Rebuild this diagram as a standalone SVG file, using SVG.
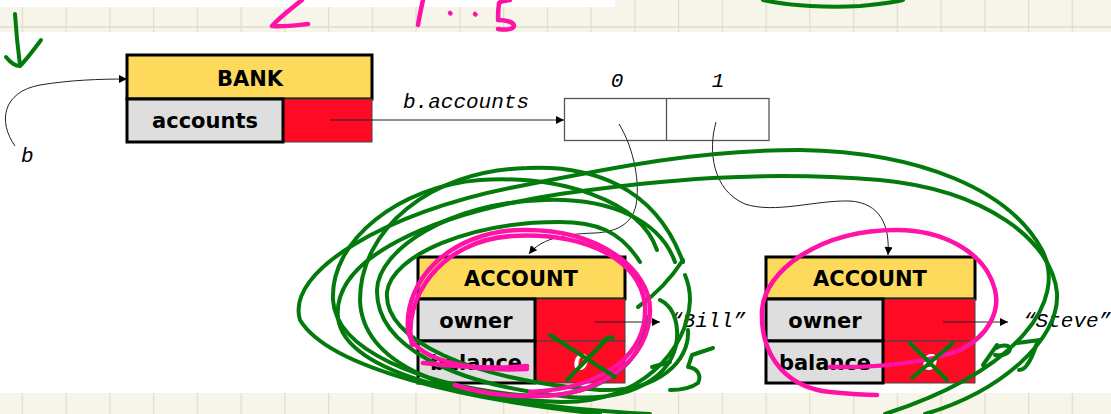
<svg xmlns="http://www.w3.org/2000/svg" width="1111" height="414" viewBox="0 0 1111 414">
  <defs>
    <marker id="arrow" viewBox="0 0 10 10" refX="10" refY="5" markerWidth="9" markerHeight="8" markerUnits="userSpaceOnUse" orient="auto">
      <path d="M0,0 L10,5 L0,10 Z" fill="#000"/>
    </marker>
    <pattern id="grid" x="21.7" y="0" width="43.75" height="414" patternUnits="userSpaceOnUse">
      <rect x="0" y="0" width="43.75" height="414" fill="#f7f5e9"/>
      <line x1="0.5" y1="0" x2="0.5" y2="414" stroke="#e0ddcf" stroke-width="1.6"/>
    </pattern>
  </defs>
  <style>
    .hdr { fill: #fdda5c; stroke: #000; stroke-width: 3; }
    .lbl { fill: #dedede; stroke: #000; stroke-width: 3; }
    .val { fill: #ff0a24; stroke: #444; stroke-width: 1; }
    .cell { fill: #fff; stroke: #555; stroke-width: 1.3; }
    .bold { font-family: "DejaVu Sans", Verdana, sans-serif; font-weight: bold; font-size: 21px; text-anchor: middle; fill: #000; }
    .mono { font-family: "Liberation Mono", "Courier New", monospace; font-style: italic; font-size: 21px; fill: #000; }
    .zero { font-family: "DejaVu Sans", sans-serif; font-style: oblique; font-weight: bold; font-size: 21px; fill: #fff; text-anchor: middle; }
    .conn { fill: none; stroke: #222; stroke-width: 1; }
    .green { fill: none; stroke: #037a0c; stroke-width: 4; stroke-linecap: round; stroke-linejoin: round; }
    .pink { fill: none; stroke: #ff12a6; stroke-width: 4.5; stroke-linecap: round; stroke-linejoin: round; }
  </style>

  <!-- page background: notebook strips top and bottom -->
  <rect x="0" y="0" width="1111" height="414" fill="#fff"/>
  <rect x="0" y="0" width="1111" height="32" fill="url(#grid)"/>
  <line x1="0" y1="27" x2="1111" y2="27" stroke="#e0ddcf" stroke-width="1.6"/>
  <rect x="0" y="0" width="615" height="7" fill="#fff"/>
  <rect x="0" y="393" width="1111" height="21" fill="url(#grid)"/>

  <!-- BANK object -->
  <g id="bank">
    <rect class="hdr" x="127" y="55" width="245" height="44"/>
    <rect class="val" x="283" y="99" width="89" height="43"/>
    <rect class="lbl" x="127" y="99" width="156" height="43"/>
    <text class="bold" x="250" y="86">BANK</text>
    <text class="bold" x="205" y="128">accounts</text>
  </g>

  <!-- variable b -->
  <g id="var-b">
    <text class="mono" x="21" y="162">b</text>
  </g>

  <!-- accounts array -->
  <g id="array">
    <rect class="cell" x="564.5" y="98.5" width="204.5" height="42"/>
    <line x1="666.5" y1="98.5" x2="666.5" y2="140.5" stroke="#555" stroke-width="1.3"/>
    <text class="mono" x="617" y="87" text-anchor="middle">0</text>
    <text class="mono" x="718" y="87" text-anchor="middle">1</text>
    <text class="mono" x="403" y="108">b.accounts</text>
  </g>

  <!-- first ACCOUNT object -->
  <g id="account-bill">
    <rect class="hdr" x="418" y="257" width="207" height="42"/>
    <rect class="val" x="535" y="299" width="90" height="42"/>
    <rect class="val" x="535" y="341" width="90" height="42"/>
    <rect class="lbl" x="418" y="299" width="117" height="42"/>
    <rect class="lbl" x="418" y="341" width="117" height="42"/>
    <text class="bold" x="521" y="286">ACCOUNT</text>
    <text class="bold" x="476" y="328">owner</text>
    <text class="bold" x="476" y="370">balance</text>
    <text class="zero" x="581" y="370">0</text>
    <text class="mono" x="670" y="327">“Bill”</text>
  </g>

  <!-- second ACCOUNT object -->
  <g id="account-steve">
    <rect class="hdr" x="766" y="257" width="209" height="42"/>
    <rect class="val" x="883" y="299" width="92" height="42"/>
    <rect class="val" x="883" y="341" width="92" height="42"/>
    <rect class="lbl" x="766" y="299" width="117" height="42"/>
    <rect class="lbl" x="766" y="341" width="117" height="42"/>
    <text class="bold" x="870" y="286">ACCOUNT</text>
    <text class="bold" x="825" y="328">owner</text>
    <text class="bold" x="825" y="370">balance</text>
    <text class="zero" x="930" y="370">0</text>
    <text class="mono" x="1023" y="327">“Steve”</text>
  </g>

  <!-- references -->
  <g id="connectors">
    <path class="conn" d="M15,146 C-2,122 2,92 40,85 C70,80 100,79 127,79" marker-end="url(#arrow)"/>
    <path class="conn" d="M330,120 L564,120" marker-end="url(#arrow)"/>
    <path class="conn" d="M619,124 C635,150 640,185 636,205 C632,225 615,232 595,233 C560,234 540,240 529,254" marker-end="url(#arrow)"/>
    <path class="conn" d="M716,122 C708,150 712,190 745,204 C775,214 815,200 850,201 C880,203 890,225 888,255" marker-end="url(#arrow)"/>
    <path class="conn" d="M595,322 L660,322" marker-end="url(#arrow)"/>
    <path class="conn" d="M943,322 L1008,322" marker-end="url(#arrow)"/>
  </g>

  <!-- pen annotations -->
  <g id="ink">
    <!-- top margin marks -->
    <path class="green" d="M15,14 C16,30 18,50 20,65"/>
    <path class="green" d="M6,57 C10,62 15,66 20,66 C28,58 35,48 41,40"/>
    <path class="pink" d="M302,0 C292,8 280,17 272,26 C285,27 298,25 308,24"/>
    <path class="pink" d="M423,0 C421,9 419,18 418,25"/>
    <path class="pink" d="M450,13 L450.5,13.5"/>
    <path class="pink" d="M475,14 L475.5,14.5"/>
    <path class="pink" d="M510,0 C505,1 500,1 499,3 C498,10 498,16 498,20 C506,20 514,22 514,26 C513,30 504,30 498,29"/>
    <path class="green" d="M763,0 C790,6 830,8 860,6 C880,4 895,2 903,0"/>

    <!-- long loops around both accounts -->
    <path class="green" d="M600,414 C470,400 330,370 300,320 C285,270 390,212 510,188 C620,166 700,150 800,150 C920,152 1010,190 1042,250 C1068,300 1020,370 885,414"/>
    <path class="green" d="M650,414 C480,405 345,375 338,318 C332,258 430,214 560,194 C660,180 760,170 880,180 C985,190 1052,240 1057,293 C1060,340 1000,392 925,414"/>

    <!-- loops around the first account -->
    <path class="green" d="M683,262 C655,185 590,165 527,168 C430,170 360,230 360,300 C362,365 450,398 560,402 C640,404 688,350 690,300 C690,290 688,282 685,275"/>
    <path class="green" d="M675,262 C660,220 610,198 545,200 C450,202 378,250 377,290 C376,345 450,385 570,397 C640,402 680,370 677,330 C676,315 670,305 660,300"/>
    <path class="green" d="M640,262 C620,230 595,222 559,222 C470,222 392,255 387,292 C383,340 470,380 600,390 C660,392 690,360 688,330"/>
    <path class="green" d="M657,250 C640,200 560,175 480,180 C400,186 330,240 333,300 C336,350 420,385 520,395 C580,400 640,380 648,317"/>
    <path class="green" d="M683,260 C670,280 655,295 638,307"/>

    <!-- pink loops -->
    <path class="pink" d="M527,369 C470,372 412,360 408,330 C404,280 450,232 520,230 C600,228 650,270 650,310 C650,360 600,395 540,396 C500,397 470,390 455,385"/>
    <path class="pink" d="M423,363 C470,368 500,369 527,366"/>
    <path class="pink" d="M412,345 C402,300 440,240 512,236 C590,232 640,262 645,305 C648,350 610,388 530,392"/>
    <path class="pink" d="M830,367 C880,368 930,362 960,350 C990,335 1000,310 995,290 C985,250 940,230 897,230 C820,230 765,270 762,310 C760,360 790,388 830,392 C850,394 870,395 877,395"/>

    <!-- crossed-out balances and new values -->
    <path class="green" d="M550,335 L615,377"/>
    <path class="green" d="M605,341 L567,380"/>
    <path class="green" d="M600,346 C603,339 609,336 613,338"/>
    <path class="green" d="M910,343 L947,380"/>
    <path class="green" d="M953,343 L912,378"/>
    <path class="green" d="M652,367 L670,362"/>
    <path class="green" d="M713,348 L692,355 L688,367 C697,368 702,375 698,383 C690,389 680,390 670,390"/>
    <path class="green" d="M997,345 L983,365"/>
    <path class="green" d="M996,348 C1002,344 1010,345 1010,349 C1009,354 1002,356 995,355"/>
    <path class="green" d="M1017,343 L1040,340"/>
    <path class="green" d="M1037,343 C1034,352 1031,360 1027,365 C1025,368 1022,370 1019,370"/>
  </g>
</svg>
